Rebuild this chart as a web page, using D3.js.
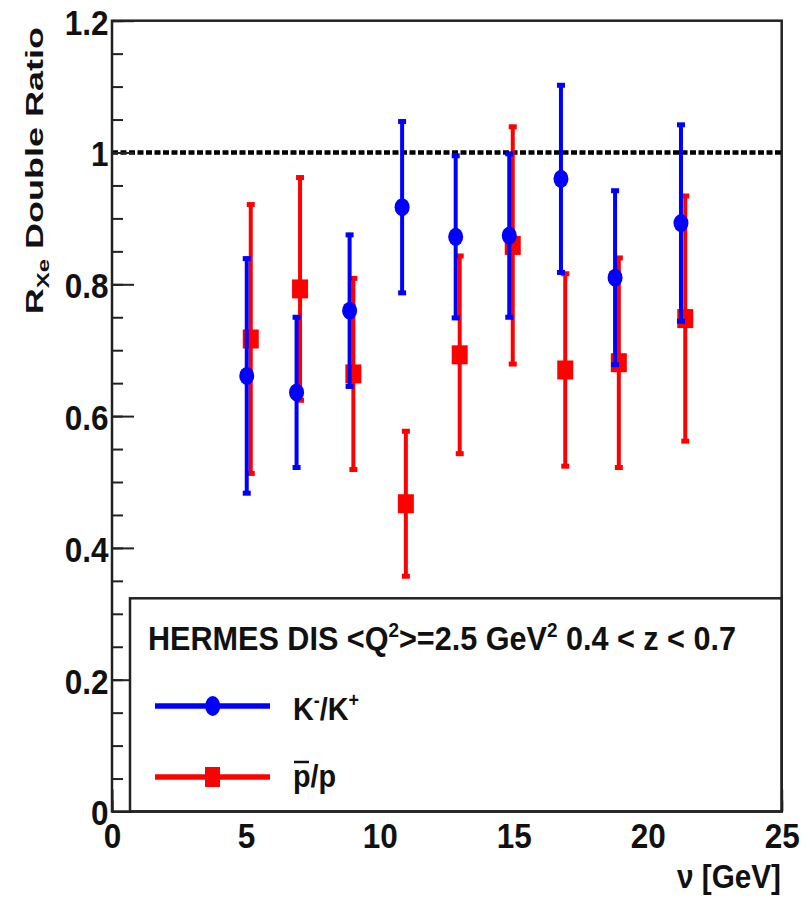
<!DOCTYPE html>
<html>
<head>
<meta charset="utf-8">
<script src="https://cdn.jsdelivr.net/npm/d3@7"></script>
<style>
  html, body { margin: 0; padding: 0; background: #fff; }
  svg { display: block; }
  text { font-family: "Liberation Sans", Arial, Helvetica, sans-serif; font-weight: bold; fill: #111; }
</style>
</head>
<body>
<svg id="chart" width="808" height="901"></svg>
<script>
// nu [GeV] positions of the kaon and antiproton bins
const nuKaon   = [5.03, 6.89, 8.87, 10.83, 12.83, 14.83, 16.76, 18.78, 21.24];
const nuProton = [5.18, 7.02, 9.01, 10.97, 12.98, 14.96, 16.92, 18.92, 21.40];

// K-/K+ double ratio and uncertainty
const kaonRatio = [0.661, 0.636, 0.760, 0.917, 0.872, 0.874, 0.960, 0.810, 0.893];
const kaonErr   = [0.178, 0.114, 0.115, 0.130, 0.123, 0.124, 0.142, 0.132, 0.149];

// pbar/p double ratio and uncertainty
const protonRatio = [0.717, 0.793, 0.664, 0.467, 0.693, 0.859, 0.670, 0.681, 0.748];
const protonErr   = [0.204, 0.169, 0.145, 0.110, 0.150, 0.180, 0.146, 0.159, 0.186];

// axis ticks
const xTicks = [0, 5, 10, 15, 20, 25];
const yTicks = [0, 0.2, 0.4, 0.6, 0.8, 1, 1.2];
const yMinorTicks = d3.range(0, 1.2001, 0.05);
const xMinorTicks = d3.range(0, 25.001, 1);

const svg = d3.select("#chart");
const padL = 112, padR = 781.7, padT = 20.7, padB = 811.5;
const squeeze = 0.9;   // narrow face for horizontal lettering

const x = d3.scaleLinear().domain([0, 25]).range([padL, padR]);
const y = d3.scaleLinear().domain([0, 1.2]).range([padB, padT]);

const BLUE = "#0000ff", RED = "#ff0000";

// frame background
svg.append("rect").attr("x", padL).attr("y", padT)
  .attr("width", padR - padL).attr("height", padB - padT)
  .attr("fill", "#fff");

// reference line at unity
svg.append("line")
  .attr("x1", x(0)).attr("x2", x(25)).attr("y1", y(1)).attr("y2", y(1))
  .attr("stroke", "#000").attr("stroke-width", 4.5).attr("stroke-dasharray", "6,2.5");

// error bars with end caps and markers
function drawSeries(xs, vals, errs, color, marker) {
  const data = xs.map((v, i) => ({ nu: v, r: vals[i], e: errs[i] }));
  const g = svg.append("g");
  g.selectAll("line.bar").data(data).enter().append("line")
    .attr("x1", d => x(d.nu)).attr("x2", d => x(d.nu))
    .attr("y1", d => y(d.r - d.e)).attr("y2", d => y(d.r + d.e))
    .attr("stroke", color).attr("stroke-width", 4);
  ["lo", "hi"].forEach(k => {
    g.selectAll("rect.cap" + k).data(data).enter().append("rect")
      .attr("x", d => x(d.nu) - 4)
      .attr("y", d => y(k === "lo" ? d.r - d.e : d.r + d.e) - 2.5)
      .attr("width", 8).attr("height", 5).attr("fill", color);
  });
  if (marker === "circle") {
    g.selectAll("ellipse").data(data).enter().append("ellipse")
      .attr("cx", d => x(d.nu)).attr("cy", d => y(d.r))
      .attr("rx", 7.5).attr("ry", 9).attr("fill", color);
  } else {
    g.selectAll("rect.m").data(data).enter().append("rect")
      .attr("x", d => x(d.nu) - 8).attr("y", d => y(d.r) - 9.5)
      .attr("width", 16).attr("height", 19).attr("fill", color);
  }
}
drawSeries(nuProton, protonRatio, protonErr, RED, "square");
drawSeries(nuKaon, kaonRatio, kaonErr, BLUE, "circle");

// y axis: minor and major ticks pointing inward
svg.append("g").attr("transform", `translate(${padL},0)`)
  .call(d3.axisLeft(y).tickValues(yMinorTicks).tickSize(-11).tickFormat(""))
  .call(g => g.select(".domain").remove())
  .call(g => g.selectAll("line").attr("stroke", "#222").attr("stroke-width", 2));
const yAx = svg.append("g").attr("transform", `translate(${padL},0)`)
  .call(d3.axisLeft(y).tickValues(yTicks).tickSize(-22).tickPadding(4)
    .tickFormat(d => d3.format("")(+d.toFixed(1))))
  .call(g => g.select(".domain").remove())
  .call(g => g.selectAll("line").attr("stroke", "#222").attr("stroke-width", 2));
yAx.selectAll("text")
  .attr("font-size", 35).attr("font-family", null).attr("fill", "#111")
  .attr("dy", "0.38em")
  .attr("transform", `scale(${squeeze},1)`);

// x axis ticks (inward), labels below
svg.append("g").attr("transform", `translate(0,${padB})`)
  .call(d3.axisBottom(x).tickValues(xMinorTicks).tickSize(-11).tickFormat(""))
  .call(g => g.select(".domain").remove())
  .call(g => g.selectAll("line").attr("stroke", "#222").attr("stroke-width", 2));
const xAx = svg.append("g").attr("transform", `translate(0,${padB})`)
  .call(d3.axisBottom(x).tickValues(xTicks).tickSize(-22).tickPadding(12))
  .call(g => g.select(".domain").remove())
  .call(g => g.selectAll("line").attr("stroke", "#222").attr("stroke-width", 2));
xAx.selectAll("text")
  .attr("font-size", 35).attr("font-family", null).attr("fill", "#111")
  .attr("y", 0).attr("dy", 37)
  .attr("transform", `scale(${squeeze},1)`);

// legend box
const legTop = 598.3, legLeft = 130;
svg.append("rect").attr("x", legLeft).attr("y", legTop)
  .attr("width", padR - legLeft).attr("height", padB - legTop)
  .attr("fill", "#fff").attr("stroke", "#222").attr("stroke-width", 2.5);

const legTitle = svg.append("text")
  .attr("transform", `translate(148,650) scale(${squeeze},1)`)
  .attr("font-size", 34);
legTitle.append("tspan").text("HERMES DIS <Q");
legTitle.append("tspan").attr("font-size", 21).attr("dy", -13).text("2");
legTitle.append("tspan").attr("dy", 13).text(">=2.5 GeV");
legTitle.append("tspan").attr("font-size", 21).attr("dy", -13).text("2");
legTitle.append("tspan").attr("dy", 13).text(" 0.4 < z < 0.7");

// legend entries
const entries = [
  { color: BLUE, marker: "circle", y: 706 },
  { color: RED, marker: "square", y: 777 }
];
entries.forEach(en => {
  svg.append("line").attr("x1", 155).attr("x2", 270).attr("y1", en.y).attr("y2", en.y)
    .attr("stroke", en.color).attr("stroke-width", 5.5);
  if (en.marker === "circle") {
    svg.append("ellipse").attr("cx", 212.7).attr("cy", en.y).attr("rx", 7.5).attr("ry", 10)
      .attr("fill", en.color);
  } else {
    svg.append("rect").attr("x", 205).attr("y", en.y - 10).attr("width", 15).attr("height", 20)
      .attr("fill", en.color);
  }
});
const kLab = svg.append("text").attr("transform", `translate(293,720) scale(${squeeze},1)`)
  .attr("font-size", 32);
kLab.append("tspan").text("K");
kLab.append("tspan").attr("font-size", 20).attr("dy", -13).text("-");
kLab.append("tspan").attr("dy", 13).text("/K");
kLab.append("tspan").attr("font-size", 20).attr("dy", -13).text("+");

const pLab = svg.append("text").attr("transform", `translate(293,787) scale(${squeeze},1)`)
  .attr("font-size", 32);
pLab.append("tspan").text("p");
pLab.append("tspan").text("/p");
// bar over the antiproton symbol
svg.append("line").attr("x1", 294).attr("x2", 309).attr("y1", 762).attr("y2", 762)
  .attr("stroke", "#111").attr("stroke-width", 2.5);

// plot frame
svg.append("rect").attr("x", padL).attr("y", padT)
  .attr("width", padR - padL).attr("height", padB - padT)
  .attr("fill", "none").attr("stroke", "#222").attr("stroke-width", 2.5);

// axis titles
svg.append("text")
  .attr("transform", `translate(781,888) scale(${squeeze},1)`)
  .attr("text-anchor", "end").attr("font-size", 33)
  .text("\u03bd [GeV]");

const yTitle = svg.append("text")
  .attr("transform", "translate(43,27) rotate(-90) scale(1,0.66)")
  .attr("text-anchor", "end").attr("font-size", 36);
yTitle.append("tspan").text("R");
yTitle.append("tspan").attr("font-size", 24).attr("dy", 9).text("Xe");
yTitle.append("tspan").attr("dy", -9).text(" Double Ratio");
</script>
</body>
</html>
